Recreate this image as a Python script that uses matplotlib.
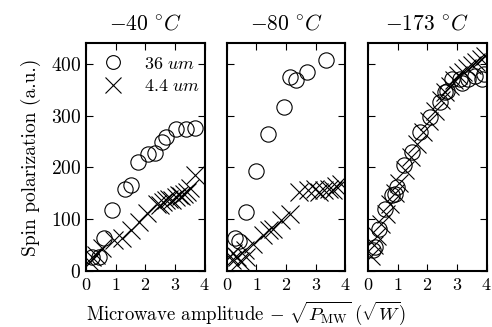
import matplotlib

matplotlib.use("Agg")

import matplotlib.pyplot as plt

plt.rcParams["font.family"] = "serif"
plt.rcParams["font.serif"] = ["cmr10"]
plt.rcParams["mathtext.fontset"] = "cm"
plt.rcParams["axes.formatter.use_mathtext"] = True

titles = [r"$-40\ ^{\circ}C$", r"$-80\ ^{\circ}C$", r"$-173\ ^{\circ}C$"]

# -40 C
x36_a = [0.19, 0.42, 0.59, 0.87, 1.30, 1.53, 1.75, 2.08, 2.34, 2.56, 2.71, 3.02, 3.36, 3.66]
y36_a = [27, 27, 63, 117, 159, 167, 210, 226, 228, 249, 258, 274, 274, 276]
x44_a = [0.14, 0.19, 0.35, 0.55, 0.93, 1.21, 1.50, 1.77, 2.05, 2.39, 2.50, 2.60, 2.68,
         2.80, 2.90, 3.02, 3.12, 3.20, 3.30, 3.40, 3.50, 3.69]
y44_a = [18, 27, 32, 45, 60, 63, 80, 95, 112, 130, 128, 134, 137,
         140, 138, 143, 146, 145, 149, 152, 160, 185]

# -80 C
x36_b = [0.27, 0.40, 0.66, 0.97, 1.39, 1.92, 2.12, 2.34, 2.70, 3.33]
y36_b = [63, 58, 114, 194, 265, 317, 374, 369, 385, 407]
x44_b = [0.10, 0.16, 0.21, 0.33, 0.45, 0.60, 0.66, 0.88, 1.22, 1.44, 1.56, 1.84, 2.12,
         2.45, 2.73, 2.96, 3.10, 3.29, 3.45, 3.57, 3.70, 3.86]
y44_b = [30, 21, 34, 28, 20, 40, 28, 53, 69, 79, 82, 98, 111,
         152, 156, 159, 152, 156, 159, 156, 165, 169]

# -173 C
x36_c = [0.18, 0.25, 0.36, 0.58, 0.80, 0.92, 0.97, 1.20, 1.48, 1.76, 2.09, 2.43, 2.59,
         2.66, 2.82, 3.09, 3.16, 3.38, 3.61, 3.83, 3.90]
y36_c = [40, 47, 82, 120, 146, 149, 162, 204, 229, 268, 297, 326, 345,
         348, 371, 371, 364, 371, 377, 371, 380]
x44_c = [0.10, 0.20, 0.30, 0.45, 0.60, 0.75, 0.90, 1.05, 1.25, 1.45, 1.65, 1.85, 2.05,
         2.25, 2.45, 2.60, 2.75, 2.90, 3.05, 3.20, 3.35, 3.50, 3.65, 3.80, 3.95]
y44_c = [30, 50, 68, 90, 110, 130, 150, 170, 195, 220, 245, 268, 290,
         310, 330, 345, 358, 368, 378, 385, 392, 398, 404, 410, 415]

circles = [(x36_a, y36_a), (x36_b, y36_b), (x36_c, y36_c)]
crosses = [(x44_a, y44_a), (x44_b, y44_b), (x44_c, y44_c)]

fig = plt.figure(figsize=(4.92, 3.27), dpi=100)
lefts = [0.175, 0.461, 0.748]
axes = []
for i, left in enumerate(lefts):
    ax = fig.add_axes([left, 0.171, 0.241, 0.697], sharey=axes[0] if axes else None)
    axes.append(ax)
    cx, cy = circles[i]
    kx, ky = crosses[i]
    ax.plot(cx, cy, "o", ms=11, mfc="none", mec="black", mew=0.8, label=r"$36\ um$")
    ax.plot(kx, ky, "x", ms=13, mec="black", mew=0.8, label=r"$4.4\ um$")
    ax.set_xlim(0, 4)
    ax.set_ylim(0, 440)
    ax.set_xticks([0, 1, 2, 3, 4])
    ax.set_yticks([0, 100, 200, 300, 400])
    ax.tick_params(direction="in", top=True, right=True, length=5, width=0.8,
                   labelsize=14)
    ax.tick_params(axis="x", labelsize=13, pad=4)
    for s in ax.spines.values():
        s.set_linewidth(1.5)
    ax.set_title(titles[i], fontsize=15.5, pad=10)
    if i > 0:
        ax.tick_params(labelleft=False)

axes[0].set_ylabel("Spin polarization (a.u.)", fontsize=14, labelpad=7)
axes[0].legend(loc="upper left", frameon=False, fontsize=13, handletextpad=0.9,
               borderaxespad=0.3, labelspacing=0.35, markerscale=0.9,
               handlelength=1.6)
fig.text(0.5, 0.022, r"Microwave amplitude $-\ \sqrt{P_{\mathrm{MW}}}\ (\sqrt{W})$",
         ha="center", va="baseline", fontsize=13.5)

fig.savefig("out.png", dpi=100)
